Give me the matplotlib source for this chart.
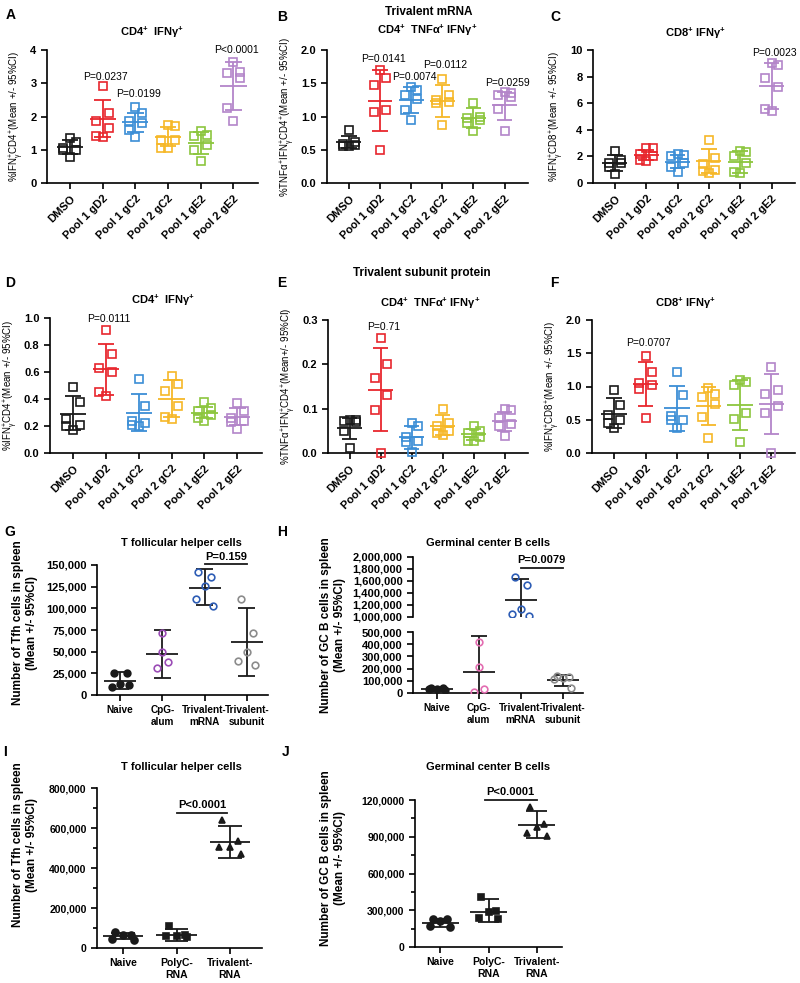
import matplotlib
matplotlib.use('Agg')
import matplotlib.pyplot as plt
from matplotlib.ticker import FuncFormatter, MultipleLocator

plt.rcParams['font.family'] = ['Liberation Sans', 'DejaVu Sans']
plt.rcParams['font.weight'] = 'bold'
plt.rcParams['mathtext.default'] = 'regular'
plt.rcParams['axes.linewidth'] = 1.2

'''Dati letti dalla figura'''
pools = ['DMSO', 'Pool 1 gD2', 'Pool 1 gC2', 'Pool 2 gC2', 'Pool 1 gE2', 'Pool 2 gE2']
pool_colors = ['#1a1a1a', '#e8262d', '#3b8ed6', '#f6b727', '#8cc63e', '#b385c9']

# A - trivalent mRNA, CD4+ IFNg+
a_pts = [[1.35, 1.22, 1.05, 1.0, 1.0, 0.78],
         [2.92, 2.1, 1.85, 1.65, 1.4, 1.38],
         [2.3, 2.1, 1.85, 1.8, 1.6, 1.38],
         [1.75, 1.72, 1.3, 1.3, 1.05, 1.05],
         [1.55, 1.45, 1.4, 1.15, 1.0, 0.65],
         [3.65, 3.35, 3.3, 3.15, 2.25, 1.85]]
a_mean = [1.07, 1.93, 1.83, 1.39, 1.20, 2.93]
a_lo = [0.86, 1.38, 1.52, 1.10, 0.88, 2.20]
a_hi = [1.30, 2.50, 2.12, 1.68, 1.52, 3.65]

# B - trivalent mRNA, CD4+ TNFa+ IFNg+
b_pts = [[0.8, 0.62, 0.58, 0.57, 0.56, 0.55],
         [1.7, 1.58, 1.48, 1.1, 1.07, 0.5],
         [1.45, 1.4, 1.33, 1.27, 1.1, 0.95],
         [1.57, 1.33, 1.25, 1.22, 1.2, 0.87],
         [1.2, 1.0, 0.98, 0.95, 0.9, 0.78],
         [1.37, 1.35, 1.32, 1.3, 1.12, 0.78]]
b_mean = [0.62, 1.24, 1.25, 1.24, 0.98, 1.17]
b_lo = [0.53, 0.78, 1.05, 1.0, 0.83, 0.94]
b_hi = [0.71, 1.7, 1.45, 1.48, 1.13, 1.37]

# C - trivalent mRNA, CD8+ IFNg+
c_pts = [[2.4, 1.7, 1.5, 1.5, 1.2, 0.7],
         [2.6, 2.6, 2.2, 2.0, 1.7, 1.65],
         [2.2, 2.1, 2.0, 1.5, 1.2, 0.8],
         [3.2, 1.9, 1.4, 1.0, 0.9, 0.75],
         [2.4, 2.3, 2.0, 1.5, 0.8, 0.75],
         [9.0, 8.9, 7.9, 7.2, 5.6, 5.4]]
c_mean = [1.5, 2.1, 1.6, 1.65, 1.6, 7.33]
c_lo = [0.9, 1.75, 1.1, 0.75, 0.75, 5.6]
c_hi = [2.1, 2.45, 2.1, 2.55, 2.4, 9.0]

# D - subunit protein, CD4+ IFNg+
d_pts = [[0.49, 0.38, 0.25, 0.21, 0.2, 0.17],
         [0.91, 0.73, 0.63, 0.6, 0.45, 0.42],
         [0.55, 0.35, 0.24, 0.22, 0.21, 0.2],
         [0.57, 0.51, 0.46, 0.35, 0.27, 0.25],
         [0.38, 0.33, 0.31, 0.28, 0.26, 0.24],
         [0.37, 0.31, 0.26, 0.24, 0.23, 0.18]]
d_mean = [0.29, 0.62, 0.30, 0.40, 0.30, 0.27]
d_lo = [0.17, 0.43, 0.16, 0.27, 0.26, 0.21]
d_hi = [0.42, 0.81, 0.44, 0.54, 0.34, 0.33]

# E - subunit protein, CD4+ TNFa+ IFNg+
e_pts = [[0.075, 0.075, 0.072, 0.07, 0.05, 0.012],
         [0.26, 0.2, 0.17, 0.13, 0.098, 0.0],
         [0.068, 0.06, 0.037, 0.027, 0.025, 0.003],
         [0.1, 0.068, 0.06, 0.05, 0.045, 0.04],
         [0.06, 0.05, 0.045, 0.035, 0.028, 0.027],
         [0.1, 0.097, 0.08, 0.065, 0.06, 0.038]]
e_mean = [0.057, 0.143, 0.036, 0.062, 0.042, 0.072]
e_lo = [0.032, 0.049, 0.01, 0.04, 0.03, 0.05]
e_hi = [0.08, 0.237, 0.06, 0.085, 0.055, 0.093]

# F - subunit protein, CD8+ IFNg+
f_pts = [[0.95, 0.72, 0.57, 0.5, 0.45, 0.38],
         [1.46, 1.22, 1.06, 1.02, 0.96, 0.53],
         [1.22, 0.87, 0.55, 0.5, 0.5, 0.38],
         [0.98, 0.88, 0.84, 0.74, 0.54, 0.23],
         [1.1, 1.07, 1.02, 0.6, 0.51, 0.17],
         [1.29, 0.94, 0.88, 0.7, 0.6, 0.0]]
f_mean = [0.59, 1.04, 0.67, 0.70, 0.72, 0.73]
f_lo = [0.37, 0.71, 0.33, 0.42, 0.35, 0.28]
f_hi = [0.82, 1.37, 1.01, 0.99, 1.1, 1.19]

# G - Tfh
g_labels = ['Naive', 'CpG-\nalum', 'Trivalent-\nmRNA', 'Trivalent-\nsubunit']
g_pts = [[25500, 25500, 12700, 9600, 11500],
         [71000, 50000, 38000, 31000],
         [142000, 136000, 126000, 111000, 103000],
         [111000, 72000, 50000, 39000, 35000]]
g_mean = [16500, 47500, 124000, 61500]
g_lo = [7500, 19500, 103500, 22500]
g_hi = [26000, 75000, 145000, 100500]

# H - GC B cells
h_pts = [[40000, 38000, 32000, 30000, 28000],
         [415000, 215000, 35000, 10000],
         [1670000, 1530000, 1130000, 1050000, 1017000],
         [140000, 130000, 125000, 115000, 40000]]
h_mean = [33000, 170000, 1280000, 105000]
h_lo = [25000, -130000, 910000, 60000]
h_hi = [42000, 470000, 1640000, 148000]

# I - Tfh (RNA)
ij_labels = ['Naive', 'PolyC-\nRNA', 'Trivalent-\nRNA']
i_pts = [[78000, 67000, 67000, 47000, 42000],
         [110000, 65000, 62000, 58000, 55000],
         [642000, 535000, 505000, 505000, 470000]]
i_mean = [60000, 67000, 531000]
i_lo = [45000, 33000, 450000]
i_hi = [75000, 97000, 612000]

# J - GC B cells (RNA)
j_pts = [[230000, 225000, 215000, 170000, 165000],
         [410000, 290000, 283000, 234000, 230000],
         [1140000, 1004000, 977000, 933000, 906000]]
j_mean = [200000, 288000, 1000000]
j_lo = [165000, 201000, 892000]
j_hi = [230000, 389000, 1113000]
j_ticklabels = ['0', '300,000', '600,000', '900,000', '120,0000']

'''Funzioni di disegno'''
W, H = 800, 983
fig = plt.figure(figsize=(W / 100, H / 100), dpi=100)

SPREAD = {6: [0.0, 0.2, -0.2, 0.2, -0.2, 0.0],
          5: [-0.15, 0.15, 0.0, -0.2, 0.2],
          4: [0.0, 0.0, 0.12, -0.12]}


def box(l, t, r, b):
    return fig.add_axes([l / W, 1 - b / H, (r - l) / W, (b - t) / H])


def ftext(x, y, s, **kw):
    fig.text(x / W, 1 - y / H, s, **kw)


def draw(ax, groups, means, los, his, colors, ecolors, markers, filled, ms,
         mean_w=0.4, cap_w=0.25, clip=False):
    for i, vals in enumerate(groups):
        offs = SPREAD[len(vals)]
        c, ec = colors[i], ecolors[i]
        ax.plot([i + o for o in offs], vals, ls='none', marker=markers[i], ms=ms,
                mfc=c if filled[i] else 'none', mec=c, mew=1.2, zorder=3, clip_on=clip)
        ax.vlines(i, los[i], his[i], color=ec, lw=1.3, zorder=2)
        ax.hlines([los[i], his[i]], i - cap_w, i + cap_w, color=ec, lw=1.3, zorder=2)
        ax.hlines(means[i], i - mean_w, i + mean_w, color=ec, lw=1.3, zorder=2)


def style(ax, fs=8):
    ax.spines[['top', 'right']].set_visible(False)
    ax.tick_params(width=1.2, length=4, labelsize=fs)


def pool_panel(box_px, pts, means, los, his, ylim, ystep, fmt, ylabel, notes):
    ax = box(*box_px)
    draw(ax, pts, means, los, his, pool_colors, pool_colors, ['s'] * 6, [False] * 6, 6)
    ax.set_xlim(-0.7, 5.75)
    ax.set_ylim(*ylim)
    ticks = [ylim[0] + k * ystep for k in range(round((ylim[1] - ylim[0]) / ystep) + 1)]
    ax.set_yticks(ticks)
    ax.set_yticklabels([fmt.format(v) for v in ticks])
    ax.set_xticks(range(6))
    ax.set_xticklabels(pools, rotation=45, ha='right', rotation_mode='anchor', fontsize=7.5)
    ax.set_ylabel(ylabel, fontsize=7, fontweight='normal', labelpad=3)
    for i, s, y in notes:
        ax.text(i + 0.1, y, s, ha='center', va='center', fontsize=7.5,
                fontweight='normal', clip_on=False)
    style(ax)
    return ax


lab_cd4 = '%IFN$_γ^{+}$CD4$^{+}$(Mean +/- 95%CI)'
lab_tnf = '%TNFα$^{+}$IFN$_γ^{+}$CD4$^{+}$(Mean +/- 95%CI)'
lab_tnf2 = '%TNFα$^{+}$IFN$_γ^{+}$CD4$^{+}$(Mean+/- 95%CI)'
lab_cd8 = '%IFN$_γ^{+}$CD8$^{+}$(Mean +/- 95%CI)'

'''Prima e seconda riga'''
pool_panel((47, 50, 258, 183), a_pts, a_mean, a_lo, a_hi, (0, 4), 1, '{:.0f}', lab_cd4,
           [(1, 'P=0.0237', 3.2), (2, 'P=0.0199', 2.67), (5, 'P<0.0001', 4.0)])
pool_panel((327, 50, 528, 183), b_pts, b_mean, b_lo, b_hi, (0, 2), 0.5, '{:.1f}', lab_tnf,
           [(1, 'P=0.0141', 1.86), (2, 'P=0.0074', 1.6), (3, 'P=0.0112', 1.77), (5, 'P=0.0259', 1.5)])
pool_panel((593, 50, 795, 183), c_pts, c_mean, c_lo, c_hi, (0, 10), 2, '{:.0f}', lab_cd8,
           [(5, 'P=0.0023', 9.75)])
pool_panel((50, 318, 262, 453), d_pts, d_mean, d_lo, d_hi, (0, 1), 0.2, '{:.1f}', lab_cd4,
           [(1, 'P=0.0111', 0.99)])
pool_panel((328, 320, 528, 453), e_pts, e_mean, e_lo, e_hi, (0, 0.3), 0.1, '{:.1f}', lab_tnf2,
           [(1, 'P=0.71', 0.284)])
pool_panel((592, 320, 795, 453), f_pts, f_mean, f_lo, f_hi, (0, 2), 0.5, '{:.1f}', lab_cd8,
           [(1, 'P=0.0707', 1.66)])

titles = [((152, 32), 'CD4$^{+}$  IFNγ$^{+}$'),
          ((427, 30), 'CD4$^{+}$  TNFα$^{+}$ IFNγ$^{+}$'),
          ((695, 33), 'CD8$^{+}$ IFNγ$^{+}$'),
          ((163, 300), 'CD4$^{+}$  IFNγ$^{+}$'),
          ((430, 303), 'CD4$^{+}$  TNFα$^{+}$ IFNγ$^{+}$'),
          ((685, 303), 'CD8$^{+}$ IFNγ$^{+}$'),
          ((181, 543), 'T follicular helper cells'),
          ((488, 543), 'Germinal center B cells'),
          ((181, 767), 'T follicular helper cells'),
          ((488, 767), 'Germinal center B cells')]
for (x, y), s in titles:
    ftext(x, y, s, ha='center', va='center', fontsize=8)

ftext(429, 12, 'Trivalent mRNA', ha='center', va='center', fontsize=8.5)
ftext(422, 273, 'Trivalent subunit protein', ha='center', va='center', fontsize=8.5)

letters = [(6, 15, 'A'), (277, 17, 'B'), (550, 17, 'C'), (5, 283, 'D'), (277, 283, 'E'),
           (550, 283, 'F'), (4, 532, 'G'), (277, 532, 'H'), (3, 752, 'I'), (282, 752, 'J')]
for x, y, s in letters:
    ftext(x, y, s, ha='left', va='center', fontsize=10)

comma = FuncFormatter(lambda v, p: f'{v:,.0f}')


def bracket(ax, x0, x1, y, dy, s):
    ax.plot([x0, x1], [y, y], color='#1a1a1a', lw=1.3, clip_on=False)
    ax.text((x0 + x1) / 2, y + dy, s, ha='center', va='bottom', fontsize=8, clip_on=False)


'''Riga G-H'''
g_col = ['#1a1a1a', '#9b4db6', '#2e5db5', '#8c8c8c']
ax = box(97, 565, 268, 695)
draw(ax, g_pts, g_mean, g_lo, g_hi, g_col, ['#1a1a1a'] * 4, ['o'] * 4,
     [True, False, False, False], 4.8, mean_w=0.38, cap_w=0.2)
ax.set_xlim(-0.55, 3.5)
ax.set_ylim(0, 150000)
ax.yaxis.set_major_locator(MultipleLocator(25000))
ax.yaxis.set_major_formatter(comma)
ax.set_xticks(range(4))
ax.set_xticklabels(g_labels, fontsize=7.2, linespacing=1.15)
style(ax)
ax.tick_params(axis='x', labelsize=7.2)
bracket(ax, 2, 3, 151500, 2500, 'P=0.159')
ftext(25, 623, 'Number of Tfh cells in spleen\n(Mean +/- 95%CI)', rotation=90,
      ha='center', va='center', fontsize=8.5, linespacing=1.25)

h_col = ['#1a1a1a', '#e36db1', '#2e5db5', '#8c8c8c']
ax_up = box(413, 557, 583, 617)
ax_lo = box(413, 632, 583, 693)
for axh in (ax_up, ax_lo):
    draw(axh, h_pts, h_mean, h_lo, h_hi, h_col, ['#1a1a1a'] * 4, ['o'] * 4,
         [True, False, False, False], 4.8, mean_w=0.38, cap_w=0.2, clip=True)
    axh.set_xlim(-0.57, 3.48)
    axh.yaxis.set_major_formatter(comma)
    style(axh)
ax_up.set_ylim(1000000, 2000000)
ax_up.yaxis.set_major_locator(MultipleLocator(200000))
ax_up.spines['bottom'].set_visible(False)
ax_up.set_xticks([])
ax_lo.set_ylim(0, 500000)
ax_lo.yaxis.set_major_locator(MultipleLocator(100000))
ax_lo.set_xticks(range(4))
ax_lo.set_xticklabels(g_labels, fontsize=7.2, linespacing=1.15)
ax_lo.tick_params(axis='x', labelsize=7.2)
bracket(ax_up, 2, 3, 1822000, 40000, 'P=0.0079')
ftext(333, 625, 'Number of GC B cells in spleen\n(Mean +/- 95%CI)', rotation=90,
      ha='center', va='center', fontsize=8.5, linespacing=1.25)

'''Riga I-J'''
ax = box(97, 788, 262, 948)
draw(ax, i_pts, i_mean, i_lo, i_hi, ['#1a1a1a'] * 3, ['#1a1a1a'] * 3, ['o', 's', '^'],
     [True] * 3, 5, mean_w=0.38, cap_w=0.22)
ax.set_xlim(-0.49, 2.6)
ax.set_ylim(0, 800000)
ax.yaxis.set_major_locator(MultipleLocator(200000))
ax.yaxis.set_minor_locator(MultipleLocator(100000))
ax.yaxis.set_major_formatter(comma)
ax.set_xticks(range(3))
ax.set_xticklabels(ij_labels, fontsize=8, linespacing=1.15)
style(ax, 7.5)
ax.tick_params(which='minor', width=1.2, length=3)
bracket(ax, 1.0, 1.95, 675000, 15000, 'P<0.0001')
ftext(25, 845, 'Number of Tfh cells in spleen\n(Mean +/- 95%CI)', rotation=90,
      ha='center', va='center', fontsize=8.5, linespacing=1.25)

ax = box(415, 800, 562, 947)
draw(ax, j_pts, j_mean, j_lo, j_hi, ['#1a1a1a'] * 3, ['#1a1a1a'] * 3, ['o', 's', '^'],
     [True] * 3, 5, mean_w=0.38, cap_w=0.22)
ax.set_xlim(-0.52, 2.52)
ax.set_ylim(0, 1200000)
ax.set_yticks([0, 300000, 600000, 900000, 1200000])
ax.set_yticklabels(j_ticklabels)
ax.yaxis.set_minor_locator(MultipleLocator(150000))
ax.set_xticks(range(3))
ax.set_xticklabels(ij_labels, fontsize=8, linespacing=1.15)
style(ax, 7.5)
ax.tick_params(which='minor', width=1.2, length=3)
bracket(ax, 0.92, 2.0, 1200000, 25000, 'P<0.0001')
ftext(333, 858, 'Number of GC B cells in spleen\n(Mean +/- 95%CI)', rotation=90,
      ha='center', va='center', fontsize=8.5, linespacing=1.25)

plt.savefig('out.png', dpi=100)
